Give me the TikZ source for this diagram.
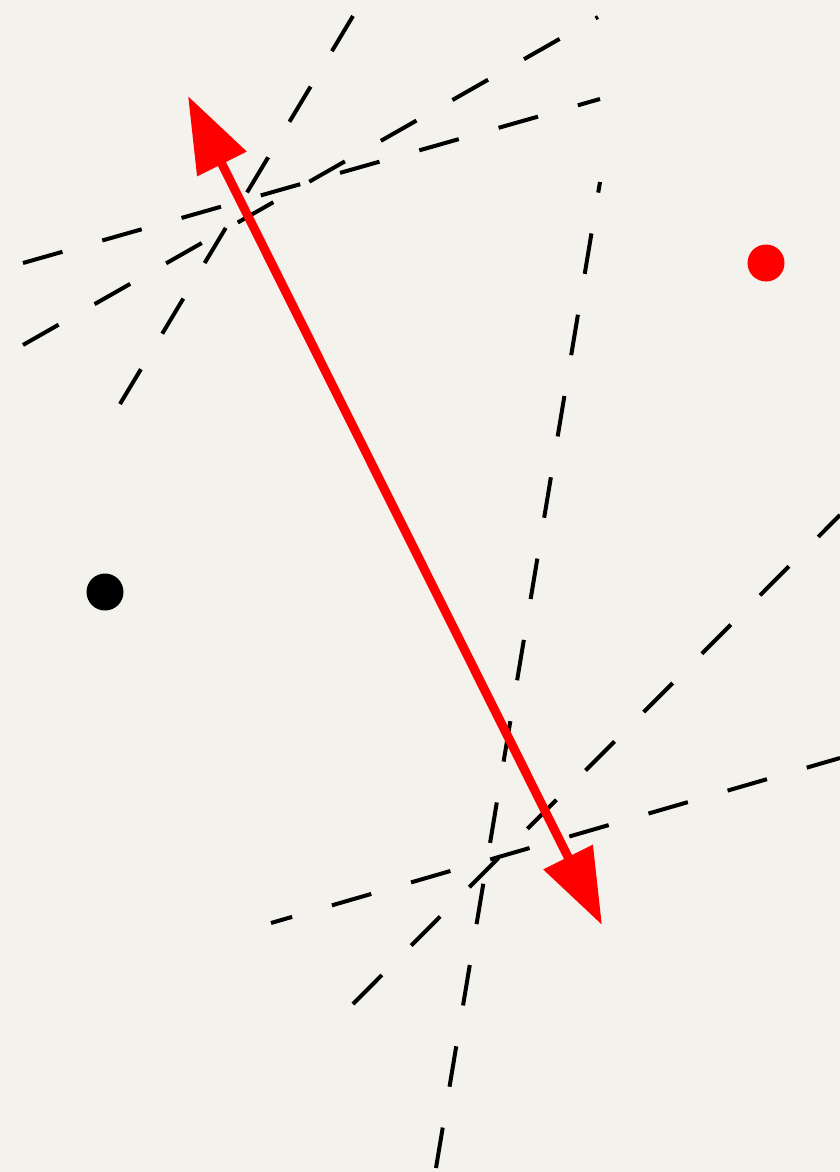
\documentclass[tikz,border=0pt]{standalone}
\usetikzlibrary{arrows.meta}
\definecolor{paper}{RGB}{244,242,237}
\definecolor{pointred}{RGB}{255,0,0}
\begin{document}
\begin{tikzpicture}[x=1pt, y=-1pt,
    guide/.style={line width=4pt, dash pattern=on 41pt off 41.4pt},
    dot/.style={circle, inner sep=0pt, minimum size=37pt}]
  \fill[paper] (0,0) rectangle (840,1172);
  \useasboundingbox (0,0) rectangle (840,1172);
  % dashed guides, each drawn from the end that has a full dash
  \begin{scope}
    \clip (0,0) rectangle (840,1172);
    \foreach \xa/\ya/\xb/\yb/\ph in {
        353/16/120/404/0,
        23/345/598/17/0,
        23/263/600/99/0,
        436/1168/600/182/0,
        353/1004/840/515/0,
        271/923/840/758/19} {
      \draw[guide, dash phase=\ph] (\xa,\ya) -- (\xb,\yb);
    }
  \end{scope}
  \node[dot, fill=pointred] (reddot) at (766,263) {};
  \node[dot, fill=black] (blackdot) at (105,592) {};
  \coordinate (upper) at (188,96);
  \coordinate (lower) at (602,925);
  \draw[pointred, line width=9pt, {Triangle[length=76pt, width=53pt]}-{Triangle[length=76pt, width=53pt]}] (upper) -- (lower);
\end{tikzpicture}
\end{document}
